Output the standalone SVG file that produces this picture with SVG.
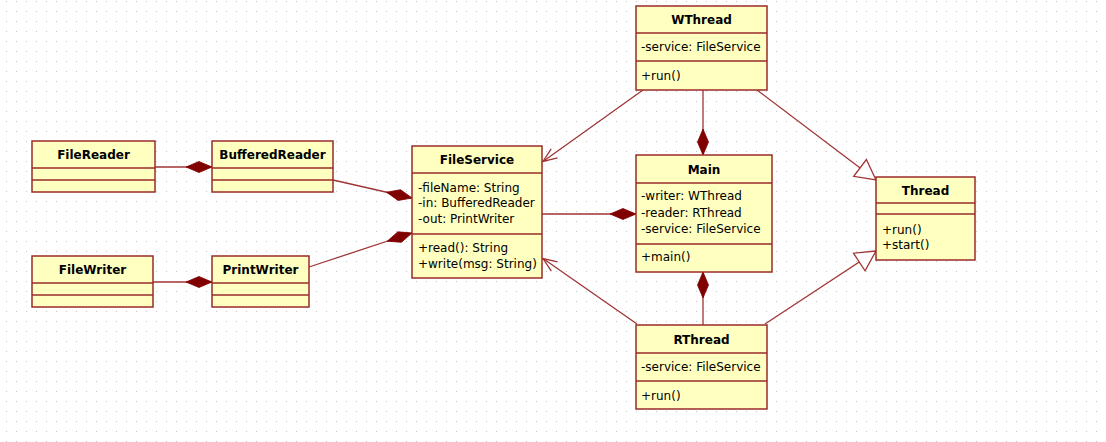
<svg xmlns="http://www.w3.org/2000/svg" width="1106" height="442" viewBox="0 0 1106 442">
<style>
.box{fill:#ffffc0;stroke:#9a2b2b;stroke-width:1.5}
.sep{stroke:#9a2b2b;stroke-width:1.5}
.t{font-family:"DejaVu Sans",Verdana,sans-serif;font-size:12px;fill:#000}
.n{font-family:"DejaVu Sans",Verdana,sans-serif;font-size:12px;font-weight:bold;fill:#000;text-anchor:middle}
.c{fill:none;stroke:#a03434;stroke-width:1.3}
</style>
<defs>
<pattern id="grid" width="10" height="10" patternUnits="userSpaceOnUse">
<rect x="6" y="1" width="1" height="1" fill="#c4c4c4"/>
</pattern>
<marker id="dia" markerUnits="userSpaceOnUse" orient="auto" refX="0" refY="0" markerWidth="30" markerHeight="14" viewBox="-28 -7 30 14" overflow="visible">
<path d="M0,0 L-13,-5.5 L-26,0 L-13,5.5 Z" fill="#800000" stroke="#800000" stroke-width="0.8"/>
</marker>
<marker id="open" markerUnits="userSpaceOnUse" orient="auto" refX="0" refY="0" markerWidth="20" markerHeight="14" viewBox="-18 -7 20 14" overflow="visible">
<path d="M-14,-5.5 L0,0 L-14,5.5" fill="none" stroke="#a03434" stroke-width="1.3"/>
</marker>
<marker id="tri" markerUnits="userSpaceOnUse" orient="auto" refX="0" refY="0" markerWidth="24" markerHeight="24" viewBox="-22 -12 24 24" overflow="visible">
<path d="M0,0 L-20,-10.5 L-20,10.5 Z" fill="#ffffff" stroke="#a03434" stroke-width="1.3"/>
</marker>
</defs>
<rect width="1106" height="442" fill="#ffffff"/>
<rect width="1106" height="442" fill="url(#grid)"/>

<g id="connectors">
<line class="c" x1="155" y1="167" x2="212" y2="167" marker-end="url(#dia)"/>
<line class="c" x1="153" y1="282" x2="212" y2="282" marker-end="url(#dia)"/>
<line class="c" x1="333" y1="180" x2="412" y2="198" marker-end="url(#dia)"/>
<line class="c" x1="309" y1="267" x2="412" y2="233" marker-end="url(#dia)"/>
<line class="c" x1="542" y1="214" x2="636" y2="214" marker-end="url(#dia)"/>
<line class="c" x1="703" y1="90" x2="703" y2="155" marker-end="url(#dia)"/>
<line class="c" x1="703" y1="325" x2="703" y2="272" marker-end="url(#dia)"/>
<line class="c" x1="643" y1="90" x2="543" y2="161.5" marker-end="url(#open)"/>
<line class="c" x1="637" y1="324" x2="543" y2="258.5" marker-end="url(#open)"/>
<line class="c" x1="757" y1="90" x2="876" y2="180" marker-end="url(#tri)"/>
<line class="c" x1="765" y1="324" x2="876" y2="251" marker-end="url(#tri)"/>
</g>

<g id="FileReader">
<rect class="box" x="32" y="141" width="123" height="51"/>
<line class="sep" x1="32" y1="168" x2="155" y2="168"/>
<line class="sep" x1="32" y1="180" x2="155" y2="180"/>
<text class="n" x="93.5" y="159">FileReader</text>
</g>

<g id="BufferedReader">
<rect class="box" x="212" y="141" width="121" height="51"/>
<line class="sep" x1="212" y1="168" x2="333" y2="168"/>
<line class="sep" x1="212" y1="180" x2="333" y2="180"/>
<text class="n" x="272.5" y="159">BufferedReader</text>
</g>

<g id="FileWriter">
<rect class="box" x="32" y="256" width="121" height="51"/>
<line class="sep" x1="32" y1="283" x2="153" y2="283"/>
<line class="sep" x1="32" y1="295" x2="153" y2="295"/>
<text class="n" x="92.5" y="274">FileWriter</text>
</g>

<g id="PrintWriter">
<rect class="box" x="212" y="256" width="97" height="51"/>
<line class="sep" x1="212" y1="283" x2="309" y2="283"/>
<line class="sep" x1="212" y1="295" x2="309" y2="295"/>
<text class="n" x="260.5" y="274">PrintWriter</text>
</g>

<g id="FileService">
<rect class="box" x="412" y="146" width="130" height="132"/>
<line class="sep" x1="412" y1="173" x2="542" y2="173"/>
<line class="sep" x1="412" y1="234" x2="542" y2="234"/>
<text class="n" x="477" y="164">FileService</text>
<text class="t" x="418" y="191.5">-fileName: String</text>
<text class="t" x="418" y="207">-in: BufferedReader</text>
<text class="t" x="418" y="222.5">-out: PrintWriter</text>
<text class="t" x="418" y="251.5">+read(): String</text>
<text class="t" x="418" y="267.5">+write(msg: String)</text>
</g>

<g id="WThread">
<rect class="box" x="636" y="6" width="131" height="84"/>
<line class="sep" x1="636" y1="33" x2="767" y2="33"/>
<line class="sep" x1="636" y1="61" x2="767" y2="61"/>
<text class="n" x="701.5" y="24">WThread</text>
<text class="t" x="641" y="51">-service: FileService</text>
<text class="t" x="641" y="79.5">+run()</text>
</g>

<g id="Main">
<rect class="box" x="636" y="155" width="136" height="117"/>
<line class="sep" x1="636" y1="183" x2="772" y2="183"/>
<line class="sep" x1="636" y1="244" x2="772" y2="244"/>
<text class="n" x="704" y="173.5">Main</text>
<text class="t" x="641" y="200">-writer: WThread</text>
<text class="t" x="641" y="216.7">-reader: RThread</text>
<text class="t" x="641" y="233.4">-service: FileService</text>
<text class="t" x="641" y="261">+main()</text>
</g>

<g id="RThread">
<rect class="box" x="636" y="325" width="131" height="84"/>
<line class="sep" x1="636" y1="353" x2="767" y2="353"/>
<line class="sep" x1="636" y1="381" x2="767" y2="381"/>
<text class="n" x="701.5" y="343.5">RThread</text>
<text class="t" x="641" y="371">-service: FileService</text>
<text class="t" x="641" y="399.5">+run()</text>
</g>

<g id="Thread">
<rect class="box" x="876" y="177" width="99" height="83"/>
<line class="sep" x1="876" y1="203" x2="975" y2="203"/>
<line class="sep" x1="876" y1="214" x2="975" y2="214"/>
<text class="n" x="925.5" y="194.5">Thread</text>
<text class="t" x="882" y="234">+run()</text>
<text class="t" x="882" y="249">+start()</text>
</g>
</svg>
